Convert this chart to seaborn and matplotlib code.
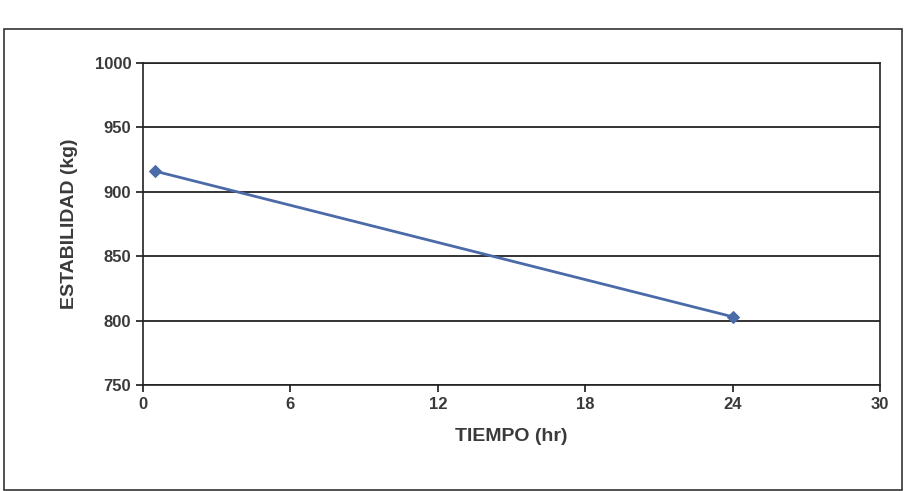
import matplotlib
matplotlib.use("Agg")
import matplotlib.pyplot as plt
import seaborn as sns
import pandas as pd
from matplotlib.patches import Rectangle

tiempo = [0.5, 24]
estabilidad = [916, 803]
x_ticks = [0, 6, 12, 18, 24, 30]
y_ticks = [750, 800, 850, 900, 950, 1000]

sns.set_theme(style="white")
plt.rcParams['font.family'] = ['Liberation Sans', 'DejaVu Sans']

df = pd.DataFrame({"TIEMPO (hr)": tiempo, "ESTABILIDAD (kg)": estabilidad})

fig = plt.figure(figsize=(9.17, 4.91), dpi=100)
ax = fig.add_axes([143/917, 1-385/491, (880-143)/917, (385-63)/491])

sns.lineplot(data=df, x="TIEMPO (hr)", y="ESTABILIDAD (kg)", ax=ax,
             color="#4a6aa8", marker="D", markersize=6, linewidth=2,
             markeredgecolor="#4a6aa8")

ax.set_xlim(0, 30)
ax.set_ylim(750, 1000)
ax.set_xticks(x_ticks)
ax.set_yticks(y_ticks)
ax.yaxis.grid(True, color="#111111", linewidth=1.2)
ax.xaxis.grid(False)
for s in ax.spines.values():
    s.set_color("#222222")
    s.set_linewidth(1.2)
ax.tick_params(axis="both", which="both", length=5, color="#222222",
               labelsize=12, labelcolor="#3a3a3a", direction="out",
               bottom=True, left=True)
for lbl in ax.get_xticklabels() + ax.get_yticklabels():
    lbl.set_fontweight("bold")
ax.set_xlabel("TIEMPO (hr)", fontsize=14, fontweight="bold", color="#3a3a3a", labelpad=12)
ax.set_ylabel("ESTABILIDAD (kg)", fontsize=14, fontweight="bold", color="#3a3a3a", labelpad=12)

fig.patches.append(Rectangle((4/917, 1/491), 898/917, (491-30)/491,
                             transform=fig.transFigure, fill=False,
                             edgecolor="#333333", linewidth=1.2))

fig.savefig("out.png", dpi=100, facecolor="white")
